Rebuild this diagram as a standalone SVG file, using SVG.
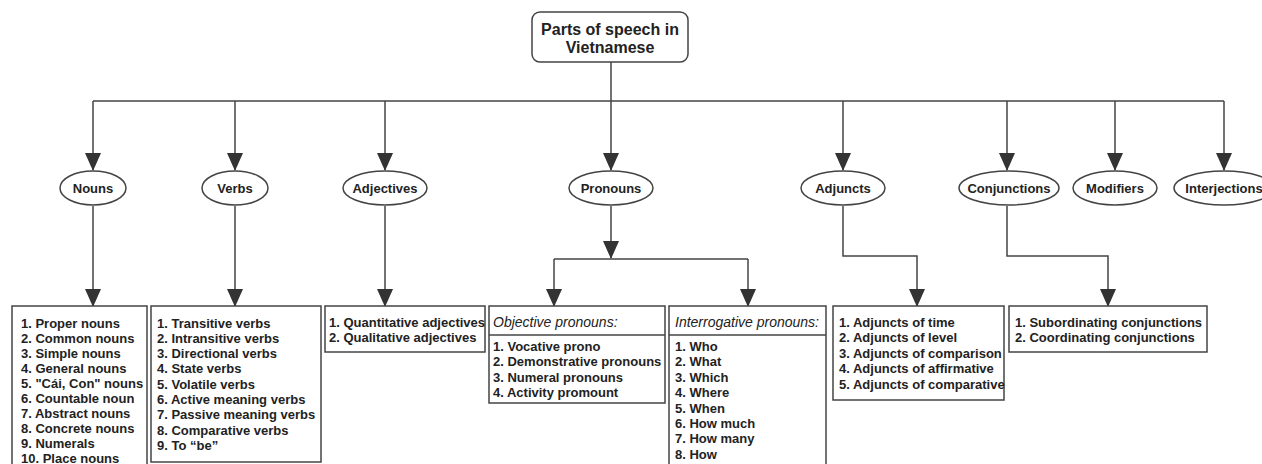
<svg xmlns="http://www.w3.org/2000/svg" width="1262" height="464" viewBox="0 0 1262 464">
<defs>
<marker id="ah" viewBox="0 0 18 16" refX="17" refY="8" markerWidth="18" markerHeight="16" markerUnits="userSpaceOnUse" orient="auto">
<path d="M0,0 L18,8 L0,16 Z" fill="#333"/>
</marker>
<style>
.c{fill:none;stroke:#444;stroke-width:1.5}
.a{marker-end:url(#ah)}
.n{fill:#fff;stroke:#444;stroke-width:1.5}
.t{font-family:"Liberation Sans",Arial,sans-serif;font-weight:bold;font-size:13px;fill:#222}
.l{text-anchor:middle}
.h{font-family:"Liberation Sans",Arial,sans-serif;font-style:italic;font-size:14px;fill:#222}
.ti{font-family:"Liberation Sans",Arial,sans-serif;font-weight:bold;font-size:16px;fill:#222;text-anchor:middle}
</style>
</defs>
<rect width="1262" height="464" fill="#fff"/>
<g id="connectors">
<path class="c" d="M611,62 V101 M93,101 H1224"/>
<path class="c a" d="M93,101 V170"/>
<path class="c a" d="M235,101 V170"/>
<path class="c a" d="M385,101 V170"/>
<path class="c a" d="M611,101 V170"/>
<path class="c a" d="M843,101 V170"/>
<path class="c a" d="M1007,101 V170"/>
<path class="c a" d="M1115,101 V170"/>
<path class="c a" d="M1224,101 V170"/>
<path class="c a" d="M93,206 V306"/>
<path class="c a" d="M235,206 V306"/>
<path class="c a" d="M385,206 V306"/>
<path class="c a" d="M611,206 V258"/>
<path class="c" d="M554,259 H748"/>
<path class="c a" d="M554,259 V306"/>
<path class="c a" d="M748,259 V306"/>
<path class="c a" d="M843,206 V256 H917 V306"/>
<path class="c a" d="M1007,206 V256 H1108 V306"/>
</g>
<g id="root">
<rect class="n" x="532" y="12" width="156" height="50" rx="8"/>
<text class="ti" x="610" y="35">Parts of speech in</text>
<text class="ti" x="610" y="53">Vietnamese</text>
</g>
<g id="nouns">
<ellipse class="n" cx="93" cy="188" rx="33" ry="17"/>
<text class="t l" x="93" y="192.5">Nouns</text>
</g>
<g id="verbs">
<ellipse class="n" cx="235" cy="188" rx="33" ry="17"/>
<text class="t l" x="235" y="192.5">Verbs</text>
</g>
<g id="adjectives">
<ellipse class="n" cx="385" cy="188" rx="42" ry="17"/>
<text class="t l" x="385" y="192.5">Adjectives</text>
</g>
<g id="pronouns">
<ellipse class="n" cx="611" cy="188" rx="42" ry="17"/>
<text class="t l" x="611" y="192.5">Pronouns</text>
</g>
<g id="adjuncts">
<ellipse class="n" cx="843" cy="188" rx="42" ry="17"/>
<text class="t l" x="843" y="192.5">Adjuncts</text>
</g>
<g id="conjunctions">
<ellipse class="n" cx="1009" cy="188" rx="50" ry="17"/>
<text class="t l" x="1009" y="192.5">Conjunctions</text>
</g>
<g id="modifiers">
<ellipse class="n" cx="1115" cy="188" rx="42" ry="17"/>
<text class="t l" x="1115" y="192.5">Modifiers</text>
</g>
<g id="interjections">
<ellipse class="n" cx="1224" cy="188" rx="50" ry="17"/>
<text class="t l" x="1224" y="192.5">Interjections</text>
</g>
<g id="nouns-list">
<rect class="n" x="12" y="306" width="135" height="180"/>
<text class="t" x="21" y="327.5">1. Proper nouns</text>
<text class="t" x="21" y="342.6">2. Common nouns</text>
<text class="t" x="21" y="357.7">3. Simple nouns</text>
<text class="t" x="21" y="372.8">4. General nouns</text>
<text class="t" x="21" y="387.9">5. "Cái, Con" nouns</text>
<text class="t" x="21" y="403">6. Countable noun</text>
<text class="t" x="21" y="418.1">7. Abstract nouns</text>
<text class="t" x="21" y="433.2">8. Concrete nouns</text>
<text class="t" x="21" y="448.3">9. Numerals</text>
<text class="t" x="21" y="463.2">10. Place nouns</text>
</g>
<g id="verbs-list">
<rect class="n" x="151" y="306" width="170" height="156"/>
<text class="t" x="157" y="327.5">1. Transitive verbs</text>
<text class="t" x="157" y="342.8">2. Intransitive verbs</text>
<text class="t" x="157" y="358.1">3. Directional verbs</text>
<text class="t" x="157" y="373.4">4. State verbs</text>
<text class="t" x="157" y="388.7">5. Volatile verbs</text>
<text class="t" x="157" y="404">6. Active meaning verbs</text>
<text class="t" x="157" y="419.3">7. Passive meaning verbs</text>
<text class="t" x="157" y="434.6">8. Comparative verbs</text>
<text class="t" x="157" y="449.9">9. To “be”</text>
</g>
<g id="adjectives-list">
<rect class="n" x="325" y="306" width="160" height="46"/>
<text class="t" x="329" y="327">1. Quantitative adjectives</text>
<text class="t" x="329" y="342.4">2. Qualitative adjectives</text>
</g>
<g id="objective-pronouns">
<rect class="n" x="489" y="306" width="176" height="97"/>
<path class="c" d="M489,335 H665"/>
<text class="h" x="493" y="326.5">Objective pronouns:</text>
<text class="t" x="493" y="351">1. Vocative prono</text>
<text class="t" x="493" y="366.4">2. Demonstrative pronouns</text>
<text class="t" x="493" y="381.8">3. Numeral pronouns</text>
<text class="t" x="493" y="397.2">4. Activity promount</text>
</g>
<g id="interrogative-pronouns">
<rect class="n" x="669" y="306" width="157" height="180"/>
<path class="c" d="M669,335 H826"/>
<text class="h" x="675" y="326.5">Interrogative pronouns:</text>
<text class="t" x="675" y="351">1. Who</text>
<text class="t" x="675" y="366.4">2. What</text>
<text class="t" x="675" y="381.8">3. Which</text>
<text class="t" x="675" y="397.2">4. Where</text>
<text class="t" x="675" y="412.6">5. When</text>
<text class="t" x="675" y="428">6. How much</text>
<text class="t" x="675" y="443.4">7. How many</text>
<text class="t" x="675" y="458.8">8. How</text>
</g>
<g id="adjuncts-list">
<rect class="n" x="833" y="306" width="171" height="94"/>
<text class="t" x="839" y="327">1. Adjuncts of time</text>
<text class="t" x="839" y="342.4">2. Adjuncts of level</text>
<text class="t" x="839" y="357.8">3. Adjuncts of comparison</text>
<text class="t" x="839" y="373.2">4. Adjuncts of affirmative</text>
<text class="t" x="839" y="388.6">5. Adjuncts of comparative</text>
</g>
<g id="conjunctions-list">
<rect class="n" x="1009" y="306" width="198" height="46"/>
<text class="t" x="1015" y="327">1. Subordinating conjunctions</text>
<text class="t" x="1015" y="342.4">2. Coordinating conjunctions</text>
</g>
</svg>
